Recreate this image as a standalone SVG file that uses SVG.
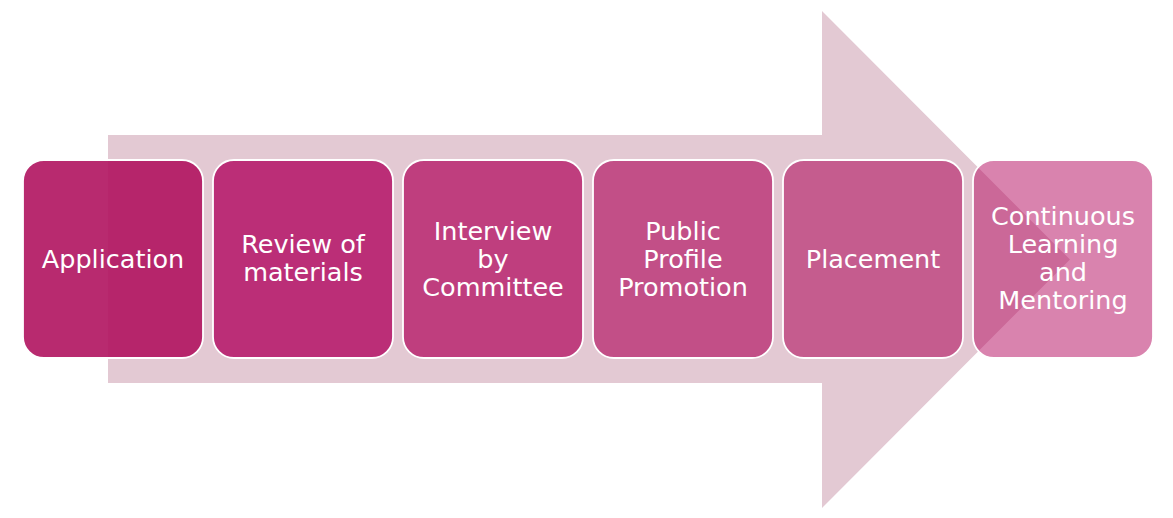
<svg xmlns="http://www.w3.org/2000/svg" width="1173" height="518" viewBox="0 0 1173 518">
<style>
.box{stroke:#ffffff;stroke-width:1.8}
.lbl{font-family:"DejaVu Sans",sans-serif;font-size:25.5px;fill:#ffffff;text-anchor:middle}
</style>
<rect width="1173" height="518" fill="#ffffff"/>
<g id="arrow">
<polygon points="108,135 822,135 822,11 1070,259.5 822,508 822,383 108,383" fill="#E3C9D3"/>
</g>
<g id="step1">
<rect class="box" x="23" y="160" width="180" height="198" rx="21" fill="#B0135F" fill-opacity="0.9"/>
<text class="lbl" x="113" y="268">Application</text>
</g>
<g id="step2">
<rect class="box" x="213" y="160" width="180" height="198" rx="21" fill="#BB2E77"/>
<text class="lbl" x="303" y="253">Review of</text>
<text class="lbl" x="303" y="281">materials</text>
</g>
<g id="step3">
<rect class="box" x="403" y="160" width="180" height="198" rx="21" fill="#BF3E7E"/>
<text class="lbl" x="493" y="240">Interview</text>
<text class="lbl" x="493" y="268">by</text>
<text class="lbl" x="493" y="296">Committee</text>
</g>
<g id="step4">
<rect class="box" x="593" y="160" width="180" height="198" rx="21" fill="#C24F87"/>
<text class="lbl" x="683" y="240">Public</text>
<text class="lbl" x="683" y="268">Profile</text>
<text class="lbl" x="683" y="296">Promotion</text>
</g>
<g id="step5">
<rect class="box" x="783" y="160" width="180" height="198" rx="21" fill="#C55C8E"/>
<text class="lbl" x="873" y="268">Placement</text>
</g>
<g id="step6">
<rect class="box" x="973" y="160" width="180" height="198" rx="21" fill="#B3075D" fill-opacity="0.5"/>
<text class="lbl" x="1063" y="225">Continuous</text>
<text class="lbl" x="1063" y="253">Learning</text>
<text class="lbl" x="1063" y="281">and</text>
<text class="lbl" x="1063" y="309">Mentoring</text>
</g>
<g id="connectors"></g>
</svg>
